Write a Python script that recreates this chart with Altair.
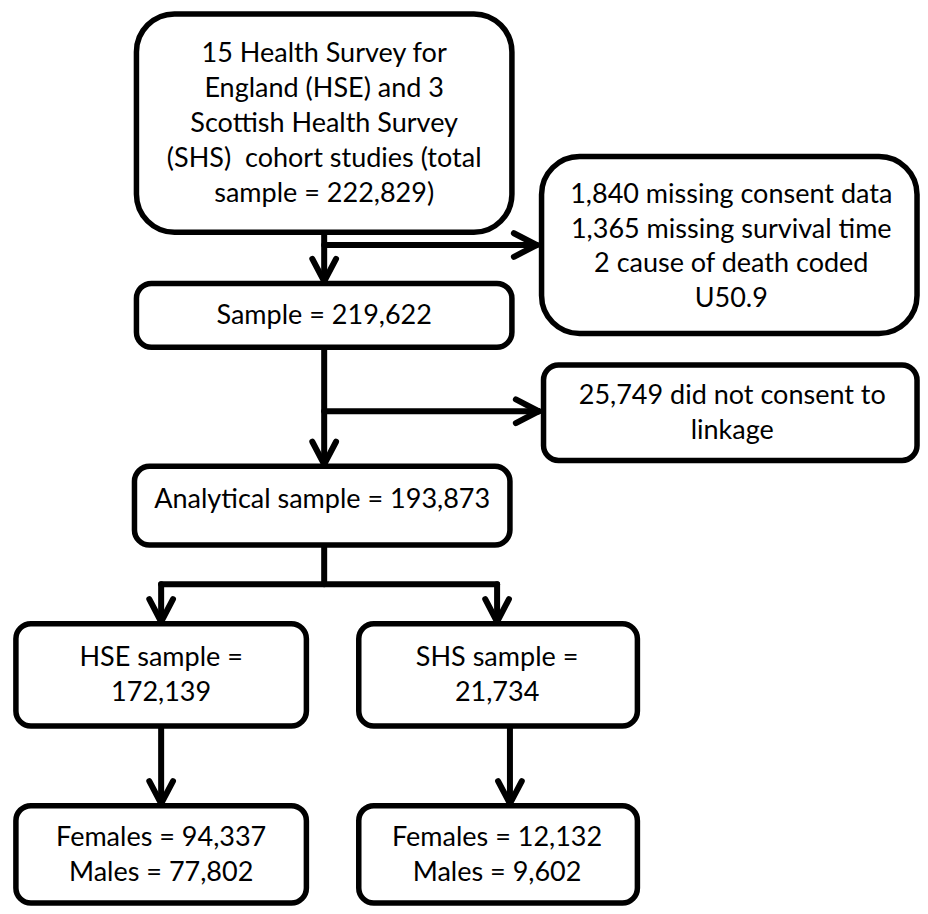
import altair as alt
import pandas as pd

# ---- layout data (reference pixel coordinates) ----
box_names = ["top", "sample", "excl1", "excl2", "analytical", "hse", "shs", "hse_sex", "shs_sex"]
box_x1 = [135, 135, 545, 547, 133, 13, 360, 13, 360]
box_x2 = [515, 515, 925, 925, 513, 307, 642, 307, 642]
box_y1 = [8, 282, 153, 365, 468, 628, 628, 813, 813]
box_y2 = [230, 347, 333, 462, 548, 732, 732, 912, 912]
box_big = [True, False, True, False, False, False, False, False, False]

texts = [
    ["15 Health Survey for", "England (HSE) and 3", "Scottish Health Survey",
     "(SHS)\u00a0 cohort studies (total", "sample = 222,829)"],
    ["Sample = 219,622"],
    ["1,840 missing consent data", "1,365 missing survival time",
     "2 cause of death coded", "U50.9"],
    ["25,749 did not consent to", "linkage"],
    ["Analytical sample = 193,873"],
    ["HSE sample =", "172,139"],
    ["SHS sample =", "21,734"],
    ["Females = 94,337", "Males = 77,802"],
    ["Females = 12,132", "Males = 9,602"],
]
text_x = [325, 325, 737, 738, 323, 160, 500, 160, 500]
text_y = [120, 315, 245, 414, 502, 681, 681, 864, 864]
LINE_H = 35.5

seg_x1 = [325, 325, 325, 325, 325, 160, 160, 500, 160, 513]
seg_y1 = [230, 243, 347, 412, 548, 588, 588, 588, 732, 732]
seg_x2 = [325, 540, 325, 542, 325, 500, 160, 500, 160, 513]
seg_y2 = [280, 243, 466, 412, 588, 588, 626, 626, 811, 811]

tip_x = [325, 540, 325, 542, 160, 500, 160, 513]
tip_y = [280, 243, 466, 412, 626, 626, 811, 811]
tip_dir = ["down", "right", "down", "right", "down", "down", "down", "down"]

HEAD_BACK = 23
HEAD_SIDE = 12

# ---- build tables ----
boxes = pd.DataFrame({"name": box_names, "x1": box_x1, "x2": box_x2,
                      "y1": box_y1, "y2": box_y2, "big": box_big})

lrows = []
for lines_, cx, cy in zip(texts, text_x, text_y):
    n = len(lines_)
    for i, s in enumerate(lines_):
        lrows.append({"label": s, "x": cx, "y": cy + (i - (n - 1) / 2) * LINE_H})
labels = pd.DataFrame(lrows)

rows = []
for a, b, c, d in zip(seg_x1, seg_y1, seg_x2, seg_y2):
    rows.append({"x1": a, "y1": b, "x2": c, "y2": d})
for tx, ty, dr in zip(tip_x, tip_y, tip_dir):
    if dr == "down":
        rows.append({"x1": tx - HEAD_SIDE, "y1": ty - HEAD_BACK, "x2": tx, "y2": ty})
        rows.append({"x1": tx + HEAD_SIDE, "y1": ty - HEAD_BACK, "x2": tx, "y2": ty})
    else:
        rows.append({"x1": tx - HEAD_BACK, "y1": ty - HEAD_SIDE, "x2": tx, "y2": ty})
        rows.append({"x1": tx - HEAD_BACK, "y1": ty + HEAD_SIDE, "x2": tx, "y2": ty})
segs = pd.DataFrame(rows)

xs = alt.Scale(domain=[5, 927])
ys = alt.Scale(domain=[2, 914], reverse=True)

def X(f):
    return alt.X(f, type="quantitative", scale=xs, axis=None)

def Y(f):
    return alt.Y(f, type="quantitative", scale=ys, axis=None)

big_boxes = alt.Chart(boxes).transform_filter("datum.big").mark_rect(
    fill="white", stroke="black", strokeWidth=5.5, cornerRadius=38
).encode(x=X("x1"), x2="x2", y=Y("y1"), y2="y2")

small_boxes = alt.Chart(boxes).transform_filter("!datum.big").mark_rect(
    fill="white", stroke="black", strokeWidth=5.5, cornerRadius=15
).encode(x=X("x1"), x2="x2", y=Y("y1"), y2="y2")

lines = alt.Chart(segs).mark_rule(
    color="black", strokeWidth=6, strokeCap="round"
).encode(x=X("x1"), x2="x2", y=Y("y1"), y2="y2")

text = alt.Chart(labels).mark_text(
    font="Lato", fontSize=27, align="center", baseline="middle", color="black"
).encode(x=X("x"), y=Y("y"), text="label:N")

chart = alt.layer(lines, big_boxes, small_boxes, text).properties(
    width=912, height=898, padding=0,
    autosize=alt.AutoSizeParams(type="fit", contains="padding"),
    background="white",
).configure_view(stroke=None)

chart.save("out.html", embed_options={"renderer": "svg", "actions": False})
